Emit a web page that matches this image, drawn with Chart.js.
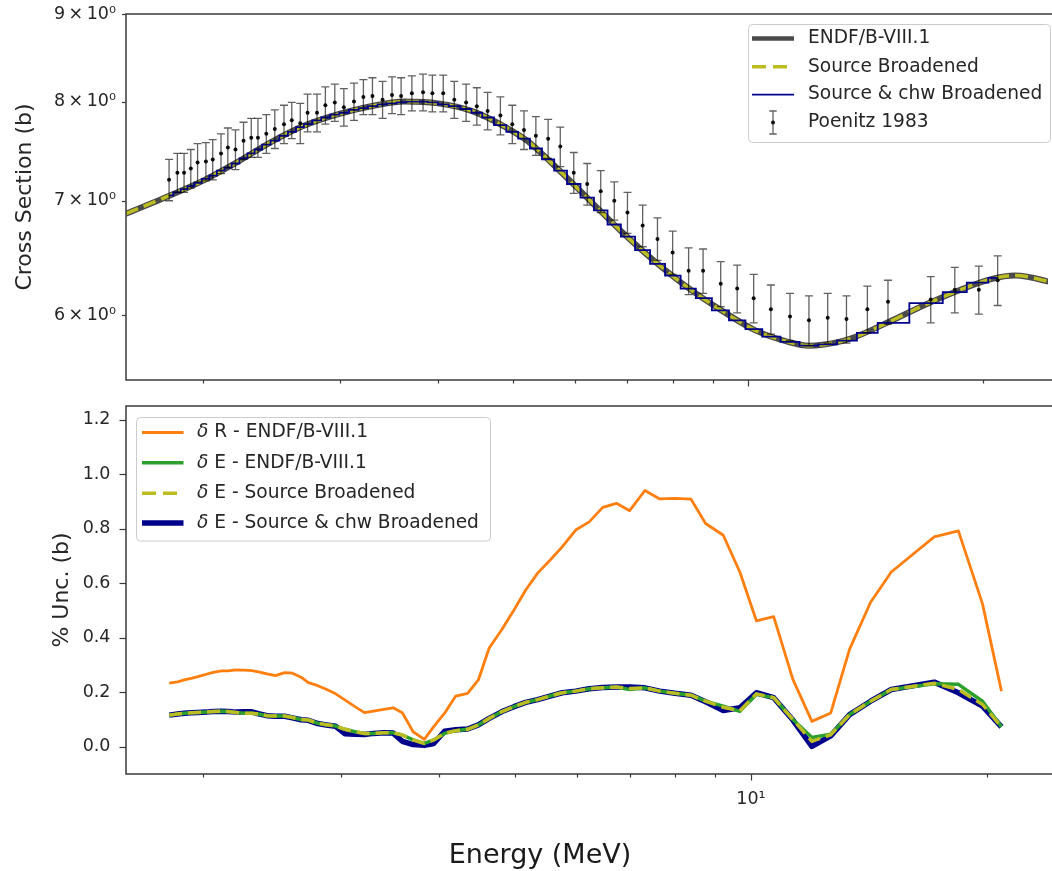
<!DOCTYPE html>
<html>
<head>
<meta charset="utf-8">
<script src="https://cdn.jsdelivr.net/npm/chart.js"></script>
<style>
  html, body { margin: 0; padding: 0; background: #fff; overflow: hidden; }
  #wrap { position: relative; width: 1052px; height: 871px; }
  canvas { position: absolute; left: 0; }
  #top { top: 0; }
  #bot { top: 392px; }
  #xlabel { position: absolute; left: 340px; width: 400px; top: 840px; text-align: center;
            font-family: "DejaVu Sans", sans-serif; font-size: 27px; line-height: 27px; color: #1a1a1a; }
</style>
</head>
<body>
<div id="wrap">
  <canvas id="top" width="1052" height="392"></canvas>
  <canvas id="bot" width="1052" height="479"></canvas>
  <div id="xlabel">Energy (MeV)</div>
</div>
<script>
'use strict';

// measurement energies (MeV), shared by both panels
const energy = [
  1.811, 1.856, 1.893, 1.931, 1.970, 2.019, 2.060, 2.111, 2.154, 2.203,
  2.256, 2.308, 2.354, 2.413, 2.474, 2.542, 2.601, 2.667, 2.725, 2.802,
  2.872, 2.953, 3.033, 3.125, 3.213, 3.300, 3.400, 3.496, 3.591, 3.707,
  3.831, 3.938, 4.066, 4.201, 4.350, 4.490, 4.635, 4.813, 4.985, 5.160,
  5.344, 5.541, 5.743, 5.976, 6.218, 6.471, 6.735, 7.002, 7.323, 7.650,
  8.000, 8.386, 8.752, 9.219, 9.678, 10.16, 10.69, 11.31, 11.96, 12.64,
  13.36, 14.21, 15.10, 17.13, 18.39, 19.74, 20.87
];

// Poenitz 1983 cross section and uncertainty (b)
const poenitz = [
  7.20, 7.27, 7.27, 7.31, 7.37, 7.38, 7.40, 7.46, 7.52, 7.50,
  7.59, 7.62, 7.62, 7.66, 7.71, 7.76, 7.80, 7.77, 7.88, 7.88,
  7.96, 7.99, 7.94, 8.00, 8.05, 8.06, 8.02, 8.07, 8.06, 8.09,
  8.10, 8.09, 8.09, 8.02, 7.99, 7.95, 7.90, 7.85, 7.76, 7.70,
  7.64, 7.61, 7.53, 7.27, 7.16, 7.09, 7.00, 6.89, 6.77, 6.65,
  6.53, 6.37, 6.37, 6.26, 6.22, 6.14, 6.05, 5.99, 5.96, 5.98,
  5.97, 6.05, 6.11, 6.13, 6.21, 6.21, 6.29
];
const poenitzErr = [
  0.20, 0.19, 0.19, 0.19, 0.19, 0.19, 0.20, 0.20, 0.20, 0.20,
  0.19, 0.20, 0.20, 0.20, 0.20, 0.20, 0.19, 0.21, 0.20, 0.20,
  0.20, 0.20, 0.20, 0.20, 0.19, 0.20, 0.20, 0.20, 0.20, 0.19,
  0.20, 0.20, 0.20, 0.20, 0.20, 0.20, 0.20, 0.20, 0.20, 0.20,
  0.20, 0.20, 0.20, 0.20, 0.20, 0.20, 0.18, 0.19, 0.19, 0.19,
  0.19, 0.20, 0.19, 0.19, 0.20, 0.20, 0.20, 0.19, 0.20, 0.20,
  0.19, 0.19, 0.18, 0.19, 0.19, 0.20, 0.21
];

// source & chw broadened, one value per measurement bin
const chw = [
  7.05, 7.08, 7.11, 7.14, 7.17, 7.21, 7.24, 7.29, 7.32, 7.36,
  7.41, 7.46, 7.50, 7.55, 7.59, 7.64, 7.68, 7.73, 7.76, 7.80,
  7.83, 7.86, 7.88, 7.91, 7.93, 7.95, 7.97, 7.98, 7.99, 8.00,
  8.00, 7.99, 7.97, 7.95, 7.92, 7.88, 7.83, 7.75, 7.68, 7.61,
  7.51, 7.40, 7.29, 7.16, 7.03, 6.91, 6.78, 6.67, 6.55, 6.43,
  6.33, 6.22, 6.14, 6.04, 5.96, 5.89, 5.83, 5.79, 5.76, 5.77,
  5.80, 5.86, 5.94, 6.10, 6.19, 6.27, 6.31
];

// evaluated curve (ENDF/B-VIII.1 and its source-broadened copy)
const endfEnergy = [1.595, 1.775, 2.00, 2.21, 2.44, 2.69, 2.97, 3.285, 3.63, 4.005,
  4.42, 4.886, 5.226, 5.607, 6.195, 6.846, 7.566, 8.36, 9.24, 10.21,
  11.25, 11.96, 13.06, 13.73, 15.18, 16.77, 18.53, 20.48, 21.97, 24.2, 25.0];
const endf = [6.88, 7.02, 7.19, 7.37, 7.57, 7.74, 7.86, 7.95, 8.00, 7.98,
  7.90, 7.73, 7.58, 7.36, 7.04, 6.73, 6.46, 6.23, 6.04, 5.88,
  5.79, 5.76, 5.79, 5.83, 5.95, 6.08, 6.20, 6.30, 6.33, 6.28, 6.25];

// uncertainties (lower panel)
const dR = [
  0.233, 0.238, 0.245, 0.251, 0.257, 0.266, 0.273, 0.278, 0.278, 0.282,
  0.281, 0.279, 0.275, 0.267, 0.261, 0.272, 0.270, 0.255, 0.235, 0.224,
  0.211, 0.194, 0.172, 0.147, 0.125, 0.131, 0.137, 0.143, 0.125, 0.055,
  0.027, 0.074, 0.123, 0.186, 0.196, 0.245, 0.362, 0.431, 0.502, 0.575,
  0.637, 0.684, 0.733, 0.795, 0.825, 0.878, 0.893, 0.866, 0.940, 0.909,
  0.911, 0.908, 0.819, 0.776, 0.641, 0.462, 0.477, 0.247, 0.093, 0.124,
  0.358, 0.530, 0.641, 0.770, 0.792, 0.524, 0.204
];
const dEendf = [
  0.116, 0.120, 0.123, 0.125, 0.126, 0.127, 0.129, 0.130, 0.129, 0.126,
  0.123, 0.123, 0.120, 0.114, 0.113, 0.113, 0.107, 0.100, 0.098, 0.086,
  0.081, 0.076, 0.064, 0.055, 0.049, 0.049, 0.051, 0.051, 0.043, 0.025,
  0.012, 0.025, 0.049, 0.059, 0.064, 0.080, 0.104, 0.129, 0.147, 0.163,
  0.173, 0.186, 0.198, 0.204, 0.213, 0.216, 0.219, 0.210, 0.216, 0.204,
  0.196, 0.189, 0.167, 0.149, 0.130, 0.192, 0.180, 0.100, 0.034, 0.046,
  0.118, 0.167, 0.210, 0.231, 0.229, 0.167, 0.073
];
const dEsrc = [
  0.116, 0.120, 0.123, 0.125, 0.126, 0.127, 0.129, 0.130, 0.129, 0.126,
  0.123, 0.123, 0.120, 0.114, 0.113, 0.113, 0.107, 0.100, 0.098, 0.086,
  0.081, 0.076, 0.064, 0.055, 0.049, 0.049, 0.051, 0.051, 0.043, 0.025,
  0.012, 0.025, 0.049, 0.059, 0.064, 0.080, 0.104, 0.129, 0.147, 0.163,
  0.173, 0.186, 0.198, 0.204, 0.213, 0.216, 0.219, 0.214, 0.216, 0.204,
  0.196, 0.189, 0.167, 0.145, 0.132, 0.194, 0.180, 0.100, 0.020, 0.044,
  0.118, 0.167, 0.210, 0.233, 0.210, 0.155, 0.073
];
const dEchw = [
  0.116, 0.120, 0.123, 0.125, 0.126, 0.127, 0.129, 0.130, 0.129, 0.127,
  0.128, 0.128, 0.121, 0.114, 0.112, 0.112, 0.106, 0.099, 0.097, 0.085,
  0.080, 0.075, 0.048, 0.046, 0.045, 0.049, 0.051, 0.050, 0.020, 0.008,
  0.005, 0.012, 0.057, 0.062, 0.065, 0.080, 0.104, 0.129, 0.147, 0.163,
  0.173, 0.186, 0.198, 0.204, 0.213, 0.217, 0.219, 0.219, 0.216, 0.204,
  0.196, 0.189, 0.165, 0.133, 0.143, 0.198, 0.180, 0.098, 0.001, 0.040,
  0.118, 0.167, 0.210, 0.237, 0.198, 0.149, 0.073
];

const xTickValues = [2, 3, 4, 5, 6, 7, 8, 9, 10, 20];
const topYTicks = [6, 7, 8, 9];
const botYTicks = [0, 0.2, 0.4, 0.6, 0.8, 1.0, 1.2];

const FONT = '"DejaVu Sans", "Liberation Sans", sans-serif';
const INK = '#262626';
const SPINE = '#3a3a3a';
const NONE = 'rgba(0,0,0,0)';
const BAR = 'rgba(0,0,0,0.62)';

function pts(xs, ys) {
  return xs.map(function (x, i) { return { x: x, y: ys[i] }; });
}

// no extra room for half-labels at the ends of an axis
function noPad(s) {
  s.paddingTop = 0; s.paddingBottom = 0; s.paddingLeft = 0; s.paddingRight = 0;
}

// frame on all four sides plus matplotlib-like tick marks
function framePlugin(yTickLen) {
  return {
    id: 'frame',
    afterDraw: function (chart) {
      const ctx = chart.ctx, a = chart.chartArea, x = chart.scales.x, y = chart.scales.y;
      ctx.save();
      ctx.strokeStyle = SPINE;
      ctx.lineWidth = 1.2;
      x.ticks.forEach(function (t) {
        const px = Math.round(x.getPixelForValue(t.value)) + 0.5;
        const len = t.value === 10 ? 6.5 : 3.5;
        ctx.beginPath(); ctx.moveTo(px, a.bottom); ctx.lineTo(px, a.bottom + len); ctx.stroke();
      });
      y.ticks.forEach(function (t) {
        const py = Math.round(y.getPixelForValue(t.value)) + 0.5;
        ctx.beginPath(); ctx.moveTo(a.left, py); ctx.lineTo(a.left - yTickLen, py); ctx.stroke();
      });
      ctx.lineWidth = 1.5;
      ctx.strokeRect(a.left, a.top, a.right - a.left + 6, a.bottom - a.top);
      ctx.restore();
    }
  };
}

const errorBars = {
  id: 'errorBars',
  afterDatasetsDraw: function (chart) {
    const ctx = chart.ctx, a = chart.chartArea, x = chart.scales.x, y = chart.scales.y;
    ctx.save();
    ctx.beginPath(); ctx.rect(a.left, a.top, a.right - a.left, a.bottom - a.top); ctx.clip();
    ctx.strokeStyle = BAR;
    ctx.lineWidth = 1.3;
    energy.forEach(function (e, i) {
      const px = x.getPixelForValue(e);
      const hi = y.getPixelForValue(poenitz[i] + poenitzErr[i]);
      const lo = y.getPixelForValue(poenitz[i] - poenitzErr[i]);
      ctx.beginPath();
      ctx.moveTo(px, hi); ctx.lineTo(px, lo);
      ctx.moveTo(px - 4, hi); ctx.lineTo(px + 4, hi);
      ctx.moveTo(px - 4, lo); ctx.lineTo(px + 4, lo);
      ctx.stroke();
    });
    ctx.restore();
  }
};

function legendBox(ctx, x, y, w, h) {
  const r = 4;
  ctx.save();
  ctx.fillStyle = 'rgba(255,255,255,0.8)';
  ctx.strokeStyle = '#cccccc';
  ctx.lineWidth = 1;
  ctx.beginPath();
  ctx.moveTo(x + r, y);
  ctx.lineTo(x + w - r, y); ctx.arcTo(x + w, y, x + w, y + r, r);
  ctx.lineTo(x + w, y + h - r); ctx.arcTo(x + w, y + h, x + w - r, y + h, r);
  ctx.lineTo(x + r, y + h); ctx.arcTo(x, y + h, x, y + h - r, r);
  ctx.lineTo(x, y + r); ctx.arcTo(x, y, x + r, y, r);
  ctx.closePath();
  ctx.fill(); ctx.stroke();
  ctx.restore();
}

function legendLine(ctx, x0, x1, y, color, width, dash) {
  ctx.save();
  ctx.strokeStyle = color;
  ctx.lineWidth = width;
  ctx.setLineDash(dash || []);
  ctx.beginPath(); ctx.moveTo(x0, y); ctx.lineTo(x1, y); ctx.stroke();
  ctx.restore();
}

function legendText(ctx, x, y, parts) {
  ctx.save();
  ctx.fillStyle = INK;
  ctx.textBaseline = 'middle';
  let cx = x;
  parts.forEach(function (p) {
    ctx.font = (p[1] ? 'italic ' : '') + '18.6px ' + FONT;
    ctx.fillText(p[0], cx, y);
    cx += ctx.measureText(p[0]).width;
  });
  ctx.restore();
}

const topLegend = {
  id: 'topLegend',
  afterDraw: function (chart) {
    const ctx = chart.ctx;
    const rows = [38.5, 66.7, 94.5, 122.5], x0 = 752, x1 = 794, tx = 808;
    legendBox(ctx, 748.5, 24.5, 302, 118);
    legendLine(ctx, x0, x1, rows[0], '#4a4a4a', 4.5);
    legendLine(ctx, x0, x1, rows[1], '#bcbd22', 3.5, [14, 7]);
    legendLine(ctx, x0, x1, rows[2], '#00008b', 1.75);
    const cx = (x0 + x1) / 2, y = rows[3];
    ctx.save();
    ctx.strokeStyle = BAR;
    ctx.lineWidth = 1.3;
    ctx.beginPath();
    ctx.moveTo(cx, y - 11.5); ctx.lineTo(cx, y + 11.5);
    ctx.moveTo(cx - 3.7, y - 11.5); ctx.lineTo(cx + 3.7, y - 11.5);
    ctx.moveTo(cx - 3.7, y + 11.5); ctx.lineTo(cx + 3.7, y + 11.5);
    ctx.stroke();
    ctx.fillStyle = '#111';
    ctx.beginPath(); ctx.arc(cx, y, 2, 0, Math.PI * 2); ctx.fill();
    ctx.restore();
    legendText(ctx, tx, rows[0], [['ENDF/B-VIII.1']]);
    legendText(ctx, tx, rows[1], [['Source Broadened']]);
    legendText(ctx, tx, rows[2], [['Source & chw Broadened']]);
    legendText(ctx, tx, rows[3], [['Poenitz 1983']]);
  }
};

const botLegend = {
  id: 'botLegend',
  afterDraw: function (chart) {
    const ctx = chart.ctx;
    const top = 392;
    const rows = [432.5, 462.8, 493.2, 523].map(function (v) { return v - top; });
    const x0 = 142, x1 = 183.5, tx = 197;
    legendBox(ctx, 136.5, 417.5 - top, 354, 123.5);
    legendLine(ctx, x0, x1, rows[0], '#ff7f0e', 2.8);
    legendLine(ctx, x0, x1, rows[1], '#2ca02c', 3.5);
    legendLine(ctx, x0, x1, rows[2], '#bcbd22', 3.5, [14, 7]);
    legendLine(ctx, x0, x1, rows[3], '#00008b', 5.5);
    legendText(ctx, tx, rows[0], [['\u03b4', true], [' R - ENDF/B-VIII.1']]);
    legendText(ctx, tx, rows[1], [['\u03b4', true], [' E - ENDF/B-VIII.1']]);
    legendText(ctx, tx, rows[2], [['\u03b4', true], [' E - Source Broadened']]);
    legendText(ctx, tx, rows[3], [['\u03b4', true], [' E - Source & chw Broadened']]);
  }
};

function xScale(labelled, height) {
  return {
    type: 'logarithmic',
    min: 1.595,
    max: 24.21,
    afterBuildTicks: function (s) { s.ticks = xTickValues.map(function (v) { return { value: v }; }); },
    afterFit: function (s) { s.height = height; noPad(s); },
    grid: { drawOnChartArea: false, drawTicks: true, tickLength: 6, color: NONE },
    border: { display: false },
    ticks: {
      autoSkip: false, maxRotation: 0, padding: 9, color: INK,
      font: { family: FONT, size: 17.5 },
      callback: function (v) { return labelled && v === 10 ? '10\u00b9' : ''; }
    }
  };
}

function baseOptions(scales, top) {
  return {
    responsive: false,
    animation: false,
    devicePixelRatio: 1,
    events: [],
    layout: { padding: { top: top, left: 0, right: 0, bottom: 0 } },
    plugins: { legend: { display: false }, tooltip: { enabled: false } },
    scales: scales
  };
}

new Chart(document.getElementById('top'), {
  type: 'line',
  data: {
    datasets: [
      { label: 'ENDF/B-VIII.1', data: pts(endfEnergy, endf), borderColor: '#4a4a4a', borderWidth: 6,
        pointRadius: 0, cubicInterpolationMode: 'monotone', borderJoinStyle: 'round', clip: 0, order: 4 },
      { label: 'Source Broadened', data: pts(endfEnergy, endf), borderColor: '#bcbd22', borderWidth: 3.5,
        borderDash: [13, 6], pointRadius: 0, cubicInterpolationMode: 'monotone', clip: 0, order: 3 },
      { label: 'Source & chw Broadened', data: pts(energy, chw), borderColor: '#00008b', borderWidth: 1.8,
        pointRadius: 0, stepped: 'middle', clip: 0, order: 2 },
      { label: 'Poenitz 1983', data: pts(energy, poenitz), showLine: false, pointRadius: 2,
        pointBackgroundColor: '#111', pointBorderWidth: 0, order: 1 }
    ]
  },
  options: baseOptions({
    x: xScale(false, 12),
    y: {
      type: 'logarithmic',
      min: 5.5,
      max: 9,
      afterBuildTicks: function (s) { s.ticks = topYTicks.map(function (v) { return { value: v }; }); },
      afterFit: function (s) { s.width = 126; noPad(s); },
      grid: { drawOnChartArea: false, drawTicks: true, tickLength: 4, color: NONE },
      border: { display: false },
      ticks: {
        padding: 6, color: INK, font: { family: FONT, size: 17.5 },
        callback: function (v) { return v + '\u2009\u00d7\u200910\u2070'; }
      },
      title: { display: true, text: 'Cross Section (b)', color: INK,
               font: { family: FONT, size: 22 }, padding: { top: 12, bottom: 0 } }
    }
  }, 14),
  plugins: [errorBars, framePlugin(4), topLegend]
});

new Chart(document.getElementById('bot'), {
  type: 'line',
  data: {
    datasets: [
      { label: '\u03b4 R - ENDF/B-VIII.1', data: pts(energy, dR), borderColor: '#ff7f0e', borderWidth: 2.8,
        pointRadius: 0, borderJoinStyle: 'round', tension: 0, clip: 0, order: 1 },
      { label: '\u03b4 E - ENDF/B-VIII.1', data: pts(energy, dEendf), borderColor: '#2ca02c', borderWidth: 3.5,
        pointRadius: 0, borderJoinStyle: 'round', tension: 0, clip: 0, order: 3 },
      { label: '\u03b4 E - Source Broadened', data: pts(energy, dEsrc), borderColor: '#bcbd22', borderWidth: 3.5,
        borderDash: [13, 6], pointRadius: 0, tension: 0, clip: 0, order: 2 },
      { label: '\u03b4 E - Source & chw Broadened', data: pts(energy, dEchw), borderColor: '#00008b', borderWidth: 5.5,
        pointRadius: 0, borderJoinStyle: 'round', tension: 0, clip: 0, order: 4 }
    ]
  },
  options: baseOptions({
    x: xScale(true, 97),
    y: {
      type: 'linear',
      min: -0.1,
      max: 1.25,
      afterBuildTicks: function (s) { s.ticks = botYTicks.map(function (v) { return { value: v }; }); },
      afterFit: function (s) { s.width = 126; noPad(s); },
      grid: { drawOnChartArea: false, drawTicks: true, tickLength: 6.5, color: NONE },
      border: { display: false },
      ticks: {
        padding: 9, color: INK, font: { family: FONT, size: 17.5 },
        callback: function (v) { return v.toFixed(1); }
      },
      title: { display: true, text: '% Unc. (b)', color: INK,
               font: { family: FONT, size: 22 }, padding: { top: 49, bottom: 0 } }
    }
  }, 14),
  plugins: [framePlugin(6.5), botLegend]
});
</script>
</body>
</html>
